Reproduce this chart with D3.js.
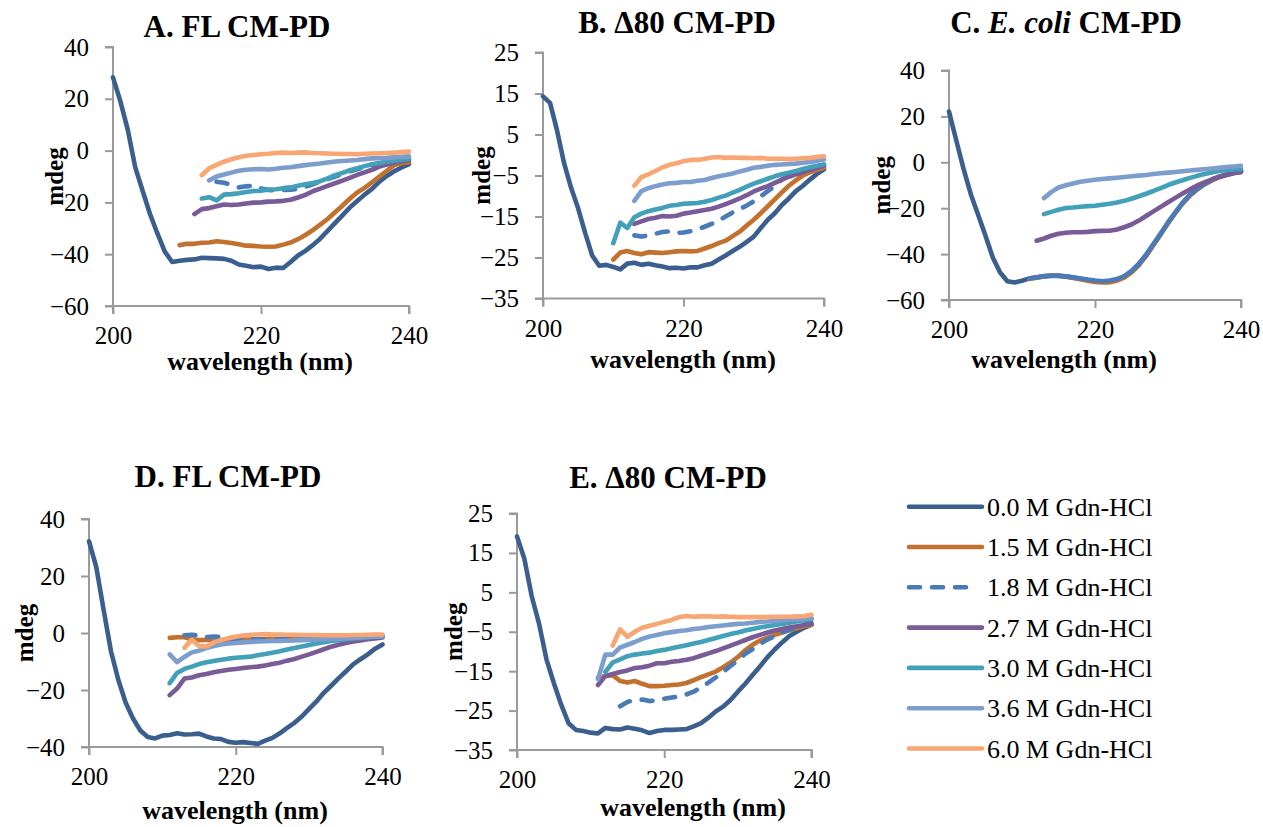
<!DOCTYPE html>
<html><head><meta charset="utf-8">
<script src="https://cdn.jsdelivr.net/npm/d3@7"></script>
<style>
html,body{margin:0;padding:0;background:#fff;}
svg{display:block;}
svg text{font-family:"Liberation Serif","Times New Roman","DejaVu Serif",serif !important;}
</style>
</head><body>
<svg id="chart" width="1263" height="827"></svg>
<script>
// ---------------- DATA ----------------
const seriesLabels = ["0.0 M Gdn-HCl","1.5 M Gdn-HCl","1.8 M Gdn-HCl","2.7 M Gdn-HCl","3.0 M Gdn-HCl","3.6 M Gdn-HCl","6.0 M Gdn-HCl"];
const xTicks = [200, 220, 240];
const yTicksA = [-60,-40,-20,0,20,40];
const yTicksB = [-35,-25,-15,-5,5,15,25];
const yTicksC = [-60,-40,-20,0,20,40];
const yTicksD = [-40,-20,0,20,40];
const yTicksE = [-35,-25,-15,-5,5,15,25];

// start wavelength (nm) of each series; values follow at 1 nm steps
const startA = [200,209,214,211,212,213,212];
const valsA = [
 [28.3,19,8,-6.4,-15.5,-24.5,-32,-39,-43,-42.5,-42.2,-42,-41.4,-41.5,-41.6,-41.8,-42.5,-44,-44.5,-45,-44.8,-45.7,-45.2,-45.3,-43,-40.5,-38.7,-36.5,-34,-31,-28,-25,-22,-19.5,-17,-14.8,-12,-9.8,-8,-6.5,-5.2],
 [-36.5,-36,-36,-35.6,-35.5,-35,-35.3,-35.7,-36.2,-36.7,-36.8,-37,-37.1,-37,-36.3,-35.5,-34.2,-32.6,-30.7,-28.6,-26.4,-23.8,-21.3,-18.6,-16.2,-14.4,-12.2,-10,-7.8,-5.6,-4.9,-4.5],
 [-12,-12.4,-13.2,-14.2,-13.8,-13.5,-14.6,-15.2,-15.3,-15.2,-15.1,-14.8,-14,-13,-12,-11,-10,-9,-8,-7.2,-6.4,-5.7,-5,-4.5,-4,-3.6,-3.3],
 [-24.5,-22.6,-22.2,-21.5,-20.8,-21,-20.8,-20.4,-20.1,-20,-19.7,-19.6,-19.4,-19,-18.1,-17.1,-15.7,-14.7,-13.6,-12.6,-11.6,-10.5,-9.4,-8.4,-7.4,-6.2,-5.4,-4.7,-4.1,-3.6],
 [-18.5,-18,-19.2,-17,-16.8,-16.5,-16,-15.6,-15.5,-15,-14.9,-14.5,-14.2,-13.6,-13,-12.5,-11.8,-10.7,-9.5,-8.6,-7.6,-6.8,-6,-5.3,-4.8,-4.3,-3.9,-3.5,-3.2],
 [-11.5,-10,-9.2,-8.5,-7.8,-7.4,-7.2,-7.1,-7.3,-7,-6.6,-6.4,-6,-5.6,-5.3,-5,-4.6,-4.2,-4,-3.8,-3.6,-3.3,-3,-2.9,-2.8,-2.6,-2.4,-2.2],
 [-9.5,-6.8,-5.5,-4.3,-3.3,-2.6,-2,-1.7,-1.4,-1.2,-0.9,-0.8,-0.9,-0.8,-0.7,-0.9,-1,-1.1,-1.2,-1.3,-1.3,-1.4,-1.2,-1.1,-1,-0.9,-0.8,-0.6,-0.4]
];

const startB = [200,210,213,213,210,213,213];
const valsB = [
 [14.3,12.7,6,-2,-8,-13,-19,-24.5,-27,-26.8,-27.3,-27.9,-26.5,-26.3,-26.8,-26.5,-26.9,-27.2,-27.6,-27.5,-27.7,-27.4,-27.4,-26.9,-26.5,-25.5,-24.5,-23.4,-22.4,-21.2,-19.9,-17.8,-15.8,-14.2,-12.2,-10.6,-8.8,-7.5,-6,-4.6,-3.5],
 [-25.5,-23.8,-23.4,-23.9,-24.2,-23.7,-23.8,-23.9,-23.7,-23.5,-23.4,-23.5,-23.4,-22.8,-22.2,-21.5,-20.9,-19.8,-18.7,-17.2,-15.8,-14.2,-12.5,-10.8,-9.1,-7.5,-6.2,-5,-4.2,-3.6,-3.1],
 [-19.6,-19.9,-19.6,-19.2,-18.8,-18.6,-19,-18.9,-18.6,-18.1,-17.5,-16.8,-16,-15,-14,-13.2,-12.3,-11.3,-10.1,-8.8,-7.6,-6,-5,-4.4,-3.8,-3.2,-2.8,-2.5],
 [-16.8,-16.2,-15.6,-15.3,-14.9,-15,-14.8,-14.3,-14,-13.7,-13.4,-13.1,-12.6,-12,-11.3,-10.6,-9.8,-8.9,-8.2,-7.6,-6.8,-6,-5.3,-4.7,-4.2,-3.6,-3.1,-2.6],
 [-21.5,-16.5,-17.8,-15.2,-14.3,-13.7,-13.3,-12.9,-12.4,-12.2,-11.9,-11.8,-11.7,-11.4,-11,-10.4,-9.9,-9.2,-8.5,-7.7,-7,-6.4,-5.8,-5.2,-4.7,-4.3,-3.9,-3.4,-3,-2.6,-2.3],
 [-11.2,-8.8,-8.1,-7.6,-7.2,-6.9,-6.8,-6.6,-6.6,-6.3,-6.1,-5.6,-5.2,-4.9,-4.5,-4,-3.6,-3.1,-2.9,-2.6,-2.4,-2.3,-2.2,-2.1,-1.9,-1.7,-1.4,-1.1],
 [-7.5,-5.4,-4.7,-3.9,-3,-2.4,-2,-1.5,-1.2,-1.2,-0.9,-0.6,-0.5,-0.7,-0.6,-0.7,-0.7,-0.8,-0.7,-0.9,-0.9,-0.9,-1,-0.9,-0.8,-0.7,-0.5,-0.3]
];

const startC = [200,211,211,212,213,213,null];
const valsC = [
 [22.1,9.5,-3,-14,-23,-32,-41.5,-48,-51.8,-52.4,-51.6,-50.6,-50.1,-49.6,-49.4,-49.4,-49.7,-50.1,-50.7,-51.3,-51.8,-52,-51.8,-51.2,-50,-47.8,-44.8,-40.8,-36,-31.4,-26.5,-22,-17.8,-14.3,-11.7,-9.5,-7.8,-6.4,-5.4,-4.6,-3.9],
 [-50.8,-50.3,-49.8,-49.2,-49.3,-49.9,-50.4,-51,-51.6,-52.1,-52.4,-52.3,-51.6,-50.3,-48,-44.7,-40.5,-35.8,-31.2,-26.4,-22,-17.9,-14.5,-11.8,-9.6,-7.9,-6.5,-5.5,-4.7,-4],
 [-50.5,-50.2,-49.7,-49.5,-49.5,-49.8,-50.2,-50.6,-51.1,-51.5,-51.8,-51.5,-50.9,-49.6,-47.3,-44.2,-40.2,-35.6,-31,-26.2,-21.8,-17.7,-14.2,-11.6,-9.4,-7.7,-6.3,-5.3,-4.5,-3.8],
 [-34.2,-33.2,-32,-31.1,-30.7,-30.5,-30.5,-30.3,-30,-29.9,-29.8,-29.3,-28.3,-27.1,-25.4,-23.4,-21.4,-19.4,-17.4,-15.5,-13.6,-11.8,-10.1,-8.7,-7.4,-6.3,-5.5,-4.8,-4.3],
 [-22.6,-21.6,-20.7,-19.9,-19.7,-19.4,-19.1,-18.9,-18.5,-18.1,-17.5,-16.8,-15.9,-14.8,-13.7,-12.5,-11.2,-9.9,-8.8,-7.8,-6.8,-5.9,-5.1,-4.4,-3.8,-3.4,-3.1,-2.9],
 [-15.6,-13,-11,-10,-9.2,-8.5,-8,-7.6,-7.3,-7,-6.7,-6.4,-6.1,-5.8,-5.5,-5.1,-4.8,-4.5,-4.2,-3.9,-3.6,-3.3,-3,-2.7,-2.4,-2.1,-1.8,-1.5],
 null
];

const startD = [200,211,213,211,211,211,213];
const valsD = [
 [32.2,23,8,-6.5,-16.5,-24.5,-30,-34.2,-36.5,-37,-36,-35.8,-35.2,-35.6,-35.5,-35.3,-36.3,-37,-37.2,-38.2,-38.5,-38.3,-38.6,-38.9,-37.8,-36.8,-35.2,-33.3,-31.5,-29.3,-26.6,-24,-21,-18.5,-15.9,-13.5,-11,-9.2,-7.5,-5.5,-4],
 [-1.7,-1.5,-1.5,-2.2,-2.5,-2.4,-2.3,-2.5,-2.4,-2.3,-2.3,-2.3,-2.2,-2.2,-2.1,-2.1,-2,-2,-1.9,-1.8,-1.8,-1.7,-1.6,-1.6,-1.5,-1.4,-1.4,-1.3,-1.3,-1.2],
 [-0.8,-0.6,-0.9,-1.4,-1.2,-1.4,-1.9,-2.1,-2.2,-2.2,-2.3,-2.3,-2.4,-2.3,-2.2,-2.2,-2.1,-2,-2,-1.9,-1.8,-1.7,-1.7,-1.6,-1.5,-1.5,-1.4,-1.4],
 [-21.8,-19.5,-16,-15.6,-14.8,-14.4,-13.8,-13.3,-12.9,-12.6,-12.3,-12,-11.8,-11.4,-10.9,-10.4,-9.7,-9.1,-8.3,-7.5,-6.6,-5.7,-4.8,-4.1,-3.5,-3,-2.6,-2.2,-1.9,-1.6],
 [-17.6,-14,-12.6,-11.8,-10.9,-10.3,-9.8,-9.4,-9,-8.7,-8.5,-8.3,-7.8,-7.4,-6.9,-6.4,-5.8,-5.3,-4.7,-4.2,-3.7,-3.2,-2.8,-2.5,-2.2,-1.9,-1.7,-1.5,-1.3,-1.2],
 [-7.5,-10.2,-8.4,-6.8,-6.2,-5.3,-4.6,-4,-3.7,-3.5,-3.3,-3.1,-3,-2.9,-2.8,-2.8,-2.7,-2.6,-2.5,-2.4,-2.3,-2.2,-2.1,-2,-1.8,-1.7,-1.6,-1.4,-1.3,-1.2],
 [-5.2,-2.4,-4.6,-4.7,-3.3,-2.5,-1.8,-1.3,-0.9,-0.6,-0.5,-0.4,-0.5,-0.5,-0.6,-0.6,-0.7,-0.7,-0.7,-0.8,-0.8,-0.8,-0.8,-0.7,-0.7,-0.6,-0.5,-0.5]
];

const startE = [200,211,214,211,212,211,213];
const valsE = [
 [19.2,13.5,4,-3,-12,-18,-23.5,-28.2,-29.9,-30.2,-30.6,-30.8,-29.4,-29.7,-29.8,-29.3,-29.6,-30,-30.7,-30.2,-29.9,-29.9,-29.8,-29.7,-29,-28.2,-26.8,-25.2,-24,-22.3,-20.2,-18.2,-16,-13.8,-11.5,-9.5,-7.7,-6.1,-5,-4,-3.2],
 [-16.7,-16.3,-16,-17.5,-17.9,-17.5,-18.2,-18.8,-18.8,-18.7,-18.5,-18.4,-18,-17.3,-16.5,-15.8,-15.1,-14,-12.8,-11.4,-9.7,-8.3,-7.2,-6.5,-5.8,-5.2,-4.6,-4.1,-3.6,-3.2],
 [-23.9,-22.8,-22.3,-22.2,-22.6,-22.4,-22,-21.7,-21.4,-20.9,-20.2,-19.1,-17.9,-16.6,-15.2,-13.7,-12.2,-10.6,-9.4,-8.1,-7,-6.1,-5.2,-4.5,-3.8,-3.2,-2.8],
 [-18.5,-16.2,-15.7,-15.2,-14.8,-14.2,-14,-13.6,-13,-13,-12.6,-12.4,-12.1,-11.7,-11.1,-10.5,-9.9,-9.2,-8.5,-7.8,-7.1,-6.4,-5.8,-5.2,-4.7,-4.3,-3.9,-3.6,-3.3,-3],
 [-15.2,-12.8,-12,-11.2,-10.8,-10.5,-10.3,-9.9,-9.6,-9.2,-8.8,-8.4,-8,-7.6,-7.1,-6.6,-6.1,-5.6,-5.2,-4.7,-4.3,-3.9,-3.6,-3.3,-3,-2.7,-2.4,-2.1,-1.8],
 [-17,-10.8,-10.8,-9,-8.3,-7.6,-6.8,-6.2,-5.8,-5.4,-5.1,-4.8,-4.6,-4.3,-4.1,-3.8,-3.6,-3.4,-3.2,-3,-2.9,-2.7,-2.5,-2.4,-2.2,-2.1,-1.9,-1.8,-1.6,-1.5],
 [-8.5,-4.4,-6.3,-5,-4,-3.5,-3,-2.5,-2,-1.3,-1,-1.2,-1.1,-1.1,-1.2,-1.1,-1.2,-1.3,-1.3,-1.3,-1.3,-1.3,-1.2,-1.2,-1.2,-1.1,-1,-0.7]
];

// ---------------- STYLE / LAYOUT ----------------
const colors = ["#3a5f8e","#c3712f","#4a7ab8","#785b97","#43a0b9","#7d9dcd","#f8a673"];
const dashed = [false,false,true,false,false,false,false];
const SERIF = "Liberation Serif, Times New Roman, DejaVu Serif, serif";

const panels = [
  {title:[["A. FL CM-PD",false]], tx:237, ty:37, x0:113, x1:409, yT:47, yB:306, yMin:-60, yMax:40, ticks:yTicksA, start:startA, vals:valsA, mx:63, xl:260, xly:370, dashC:true},
  {title:[["B. Δ80 CM-PD",false]], tx:677, ty:33, x0:543, x1:824, yT:52.5, yB:298.5, yMin:-35, yMax:25, ticks:yTicksB, start:startB, vals:valsB, mx:490, xl:683, xly:368, dashC:true},
  {title:[["C. ",false],["E. coli",true],[" CM-PD",false]], tx:1066, ty:33, x0:949, x1:1241, yT:70.5, yB:300, yMin:-60, yMax:40, ticks:yTicksC, start:startC, vals:valsC, mx:890, xl:1064, xly:368, dashC:false},
  {title:[["D. FL CM-PD",false]], tx:228, ty:487, x0:89, x1:382.5, yT:519, yB:747, yMin:-40, yMax:40, ticks:yTicksD, start:startD, vals:valsD, mx:33, xl:235, xly:819, dashC:true},
  {title:[["E. Δ80 CM-PD",false]], tx:668, ty:488, x0:517, x1:811.5, yT:513.5, yB:750, yMin:-35, yMax:25, ticks:yTicksE, start:startE, vals:valsE, mx:462, xl:693, xly:816, dashC:true}
];

const svg = d3.select("#chart");
const AX = "#9a9a9a";

panels.forEach(p => {
  const g = svg.append("g").attr("font-family", SERIF);
  const x = d3.scaleLinear().domain([200,240]).range([p.x0, p.x1]);
  const y = d3.scaleLinear().domain([p.yMin, p.yMax]).range([p.yB, p.yT]);

  // axes
  const yAxis = d3.axisLeft(y).tickValues(p.ticks).tickSize(8).tickPadding(16).tickFormat(d3.format("d"));
  const gy = g.append("g").attr("transform", `translate(${p.x0},0)`).call(yAxis);
  const xAxis = d3.axisBottom(x).tickValues(xTicks).tickSize(8).tickPadding(10).tickFormat(d3.format("d"));
  const gx = g.append("g").attr("transform", `translate(0,${p.yB})`).call(xAxis);
  [gx, gy].forEach(a => {
    a.attr("font-family", SERIF).attr("font-size", 25);
    a.select(".domain").attr("stroke", AX).attr("stroke-width", 2);
    a.selectAll(".tick line").attr("stroke", AX).attr("stroke-width", 2);
    a.selectAll(".tick text").attr("fill", "#000");
  });
  gx.select(".domain").attr("d", `M${p.x0},8V0H${p.x1}V8`);
  gy.select(".domain").attr("d", `M-8,${p.yT}H0V${p.yB}H-8`);
  gx.selectAll(".tick text").attr("dy", "0.8em");

  // series
  const line = d3.line().x(d => x(d[0])).y(d => y(d[1]));
  p.vals.forEach((vals, i) => {
    if (!vals) return;
    const pts = vals.map((v, k) => [p.start[i] + k, v]);
    const path = g.append("path").datum(pts)
      .attr("d", line)
      .attr("fill", "none")
      .attr("stroke", colors[i])
      .attr("stroke-width", 4.6)
      .attr("stroke-linecap", "round")
      .attr("stroke-linejoin", "round");
    if (dashed[i] && p.dashC) path.attr("stroke-dasharray", "11,12");
  });

  // title
  const t = g.append("text").attr("x", p.tx).attr("y", p.ty).attr("text-anchor", "middle")
    .attr("font-size", 31).attr("font-weight", "bold");
  p.title.forEach(([s, it]) => t.append("tspan").text(s).attr("font-style", it ? "italic" : "normal"));

  // axis titles
  g.append("text").attr("transform", `translate(${p.mx},${(p.yT + p.yB) / 2}) rotate(-90)`)
    .attr("text-anchor", "middle").attr("font-size", 25).attr("font-weight", "bold")
    .text("mdeg");
  g.append("text").attr("x", p.xl).attr("y", p.xly).attr("text-anchor", "middle")
    .attr("font-size", 26).attr("font-weight", "bold")
    .text("wavelength (nm)");
});

// legend
const lg = svg.append("g").attr("font-family", SERIF);
seriesLabels.forEach((lab, i) => {
  const yy = 506.7 + i * 40.3;
  const l = lg.append("line").attr("x1", 909).attr("x2", 982).attr("y1", yy).attr("y2", yy)
    .attr("stroke", colors[i]).attr("stroke-width", 4.6).attr("stroke-linecap", "round");
  if (dashed[i]) l.attr("x2", 978).attr("stroke-dasharray", "11,12");
  lg.append("text").attr("x", 987).attr("y", yy + 9).attr("font-size", 26)
    .attr("fill", "#000").text(lab);
});
</script>
</body></html>
